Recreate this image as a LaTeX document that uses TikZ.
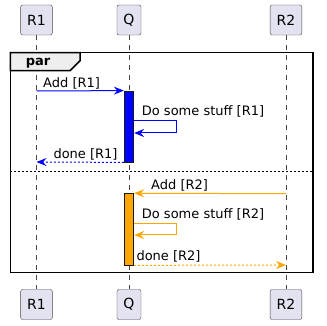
\documentclass[tikz,border=0pt]{standalone}
\usepackage{fontspec}
\setmainfont{DejaVu Sans}
\usetikzlibrary{arrows.meta, positioning}
\definecolor{partfill}{HTML}{E2E2F0}
\definecolor{partline}{HTML}{181818}
\definecolor{tabfill}{HTML}{EEEEEE}
\definecolor{msgorange}{HTML}{FFA500}

\begin{document}
\begin{tikzpicture}[x=1pt, y=-1pt,
  part/.style={draw=partline!80, fill=partfill, rounded corners=2pt, minimum height=30pt, inner xsep=6.5pt, inner ysep=0pt, font=\fontsize{14}{16}\selectfont},
  life/.style={draw=partline!80, line width=0.5pt, dash pattern=on 5pt off 5pt},
  actbar/.style={draw=partline, line width=0.8pt, minimum width=9.5pt, inner sep=0pt},
  msg/.style={line width=1pt, -{Stealth[length=10pt, width=8pt, inset=3.5pt]}},
  ret/.style={msg, dash pattern=on 2pt off 2pt},
  lbl/.style={anchor=base west, inner sep=0pt, font=\fontsize{13}{15}\selectfont}
]
\useasboundingbox (0,0) rectangle (327,326);

\node[part] (r1top) at (36.5,20) {R1};
\node[part] (qtop) at (129,20) {Q};
\node[part] (r2top) at (286,20) {R2};
\node[part] (r1bot) at (36.5,304.5) {R1};
\node[part] (qbot) at (129,304.5) {Q};
\node[part] (r2bot) at (286,304.5) {R2};

\draw[life] (r1top) -- (r1bot);
\draw[life] (qtop) -- (qbot);
\draw[life] (r2top) -- (r2bot);

% par frame
\draw[line width=1.5pt] (10.3,52.7) rectangle (313,272.7);
\draw[line width=1.5pt, fill=tabfill] (10.3,52.7) -- (80,52.7) -- (80,60.7) -- (70,70.7) -- (10.3,70.7) -- cycle;
\node[lbl, font=\fontsize{13}{15}\selectfont\bfseries] (par) at (25.7,65.7) {par};
\draw[line width=0.8pt, dash pattern=on 2pt off 2pt] (10.3,171) -- (313,171);

% first branch
\node[actbar, fill=blue, minimum height=71pt] (actA) at (129,126.5) {};
\coordinate (r1add) at (36.5,91);
\coordinate (r1done) at (36.5,162);
\draw[msg, blue] (r1add) -- (actA.north west);
\node[lbl] (addA) at (43,87.5) {Add [R1]};
\draw[msg, blue] (actA.east |- 0,120.7) -- (176,120.7) -- (176,133) -- (actA.east |- 0,133);
\node[lbl] (stuffA) at (141.7,116) {Do some stuff [R1]};
\draw[ret, blue] (actA.south west) -- (r1done);
\node[lbl] (doneA) at (53.3,158.3) {done [R1]};

% second branch
\node[actbar, fill=msgorange, minimum height=71.3pt] (actB) at (129,229.3) {};
\coordinate (r2add) at (286,193.7);
\coordinate (r2done) at (286,265);
\draw[msg, msgorange] (r2add) -- (actB.north east);
\node[lbl] (addB) at (151,189.3) {Add [R2]};
\draw[msg, msgorange] (actB.east |- 0,223.3) -- (176,223.3) -- (176,235) -- (actB.east |- 0,235);
\node[lbl] (stuffB) at (141.7,218.5) {Do some stuff [R2]};
\draw[ret, msgorange] (actB.south east) -- (r2done);
\node[lbl] (doneB) at (136.3,260) {done [R2]};
\end{tikzpicture}
\end{document}
